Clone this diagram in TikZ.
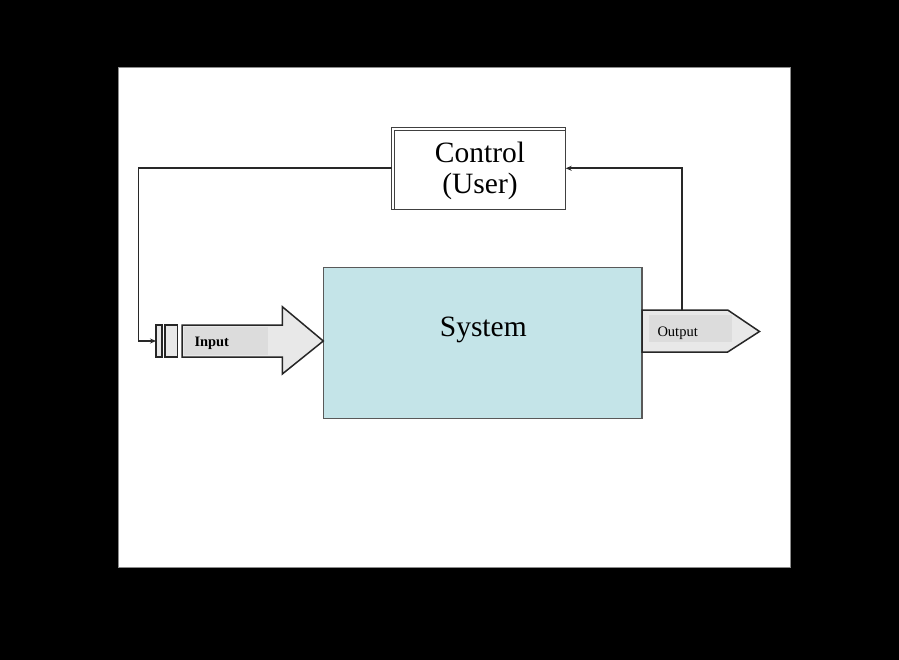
\documentclass[tikz,border=0pt]{standalone}
\usepackage{fontspec}
\setmainfont{Liberation Serif}
\usetikzlibrary{arrows.meta}
\definecolor{sysfill}{RGB}{196,228,232}
\definecolor{arrfill}{RGB}{232,232,232}
\definecolor{lblfill}{RGB}{220,220,220}
\definecolor{linec}{RGB}{40,40,40}
\begin{document}
\begin{tikzpicture}[x=1pt,y=-1pt,
  conn/.style={draw=linec,line width=1.6pt},
  arrowshape/.style={draw=black!85,line width=1.5pt,fill=arrfill,line join=miter},
  boxstyle/.style={draw=black!75,line width=1.3pt,inner sep=0pt,outer sep=0pt},
  bigtext/.style={font=\fontsize{29.5}{31}\selectfont,anchor=base,inner sep=0pt},
  smalltext/.style={inner sep=0pt,anchor=base west}]
\useasboundingbox (0,0) rectangle (899,660);
\fill[black] (0,0) rectangle (899,660);
\draw[fill=white,draw=black!45,line width=1pt] (118,67.3) rectangle (790,567.5);
% control box
\node[boxstyle,fill=white,minimum width=174pt,minimum height=82pt] (ctrl) at (478.7,168.3) {};
\draw[black!75,line width=1.1pt] ([xshift=2.8pt]ctrl.south west) -- ([xshift=2.8pt,yshift=-2.8pt]ctrl.north west) -- ([yshift=-2.8pt]ctrl.north east);
\node[bigtext] (ctrlA) at (480,163) {Control};
\node[bigtext] (ctrlB) at (480,194) {(User)};
% system box
\node[boxstyle,fill=sysfill,draw=black!65,minimum width=318.7pt,minimum height=151pt] (sys) at (482.7,343.2) {};
\node[bigtext] (systxt) at (483.3,336) {System};
% input elements
\node[boxstyle,draw=black!85,fill=arrfill,minimum width=6pt,minimum height=32pt] (in1) at (159,341) {};
\node[boxstyle,draw=black!85,fill=arrfill,minimum width=12.7pt,minimum height=32pt] (in2) at (171.4,341) {};
\draw[arrowshape] (182,325) -- (282.3,325) -- (282.3,306.7) -- (323.3,341) -- (282.3,374) -- (282.3,357) -- (182,357) -- cycle;
\fill[lblfill] (183.5,327.3) rectangle (268.3,354.5);
\node[smalltext,font=\fontsize{14.4}{16}\selectfont\bfseries] (intxt) at (194.3,346.7) {Input};
% output arrow
\draw[arrowshape] (642,310) -- (727.7,310) -- (759.5,331.5) -- (727.7,352) -- (642,352) -- cycle;
\fill[lblfill] (649,315) rectangle (731.7,342.3);
\node[smalltext,font=\fontsize{14.5}{16}\selectfont] (outtxt) at (657.3,336.7) {Output};
\coordinate (outtop) at (681.7,310);
\coordinate (fbR) at (681.7,168.3);
\coordinate (fbL) at (138.5,168.3);
\coordinate (fbLd) at (138.5,341);
% connectors
\draw[conn,-{Stealth[length=6pt,width=5pt]}] (outtop) -- (fbR) -- (ctrl.east);
\draw[conn,-{Stealth[length=6pt,width=5pt]}] (ctrl.west) -- (fbL) -- (fbLd) -- (in1.west);
\end{tikzpicture}
\end{document}
